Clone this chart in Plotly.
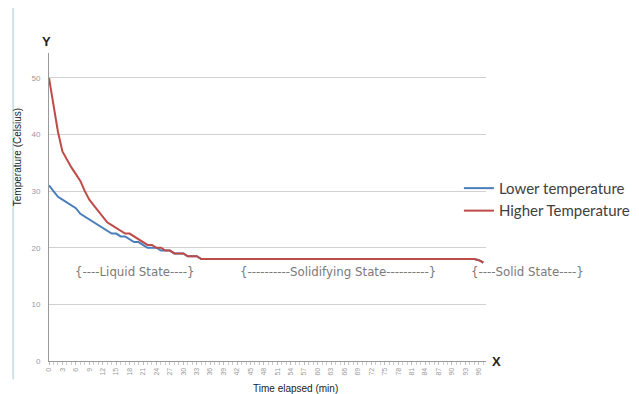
import plotly.graph_objects as go

minutes = list(range(0, 98))

higher_head = [50, 45, 40.5, 37, 35.5, 34.2, 33, 31.8, 30, 28.5, 27.5, 26.5, 25.5, 24.5,
               24, 23.5, 23, 22.5, 22.5, 22, 21.5, 21, 20.5, 20.5, 20, 20, 19.5, 19.5,
               19, 19, 19, 18.5, 18.5, 18.5]
lower_head = [31, 30, 29, 28.5, 28, 27.5, 27, 26, 25.5, 25, 24.5, 24, 23.5, 23,
              22.5, 22.5, 22, 22, 21.5, 21, 21, 20.5, 20, 20, 20, 19.5, 19.5, 19.5,
              19, 19, 19, 18.5, 18.5, 18.5]
plateau = [18] * 62
tail = [17.8, 17.4]

higher = higher_head + plateau + tail
lower = lower_head + plateau + tail

tick_vals = list(range(0, 97, 3))
tick_text = [str(v) for v in tick_vals]
y_ticks = [0, 10, 20, 30, 40, 50]

states = ["{----Liquid State----}", "{----------Solidifying State----------}", "{----Solid State----}"]
state_px = [0.197, 0.661, 1.096]
state_py = [0.289, 0.289, 0.289]

fig = go.Figure()
fig.add_trace(go.Scatter(x=minutes, y=lower, mode="lines", name="Lower temperature",
                         line=dict(color="#4a7ebb", width=2)))
fig.add_trace(go.Scatter(x=minutes, y=higher, mode="lines", name="Higher Temperature",
                         line=dict(color="#be4b48", width=2)))

def note(text, x, y, size, color, angle=0, bold=False, family="Liberation Sans"):
    fig.add_annotation(x=x, y=y, xref="paper", yref="paper",
                       text=f"<b>{text}</b>" if bold else text,
                       xanchor="center", yanchor="middle", textangle=angle, showarrow=False,
                       font=dict(family=family, size=size, color=color))

for t, x, y in zip(states, state_px, state_py):
    note(t, x, y, 11.8, "#7a7a7a", family="DejaVu Sans")

note("Y", -0.005, 1.036, 13, "#222", bold=True)
note("X", 1.025, 0.0, 13, "#222", bold=True)
note("Temperature (Celsius)", -0.073, 0.662, 10, "#222", angle=-90)
note("Time elapsed (min)", 0.563, -0.088, 10, "#222")

fig.add_shape(type="line", xref="paper", yref="paper", x0=-0.082, x1=-0.082, y0=-0.06, y1=1.15,
              line=dict(color="#cfe3e6", width=2))

# page body has an 8px default margin; figure sized/offset to fit the 639x394 window
fig.update_layout(
    width=631, height=386,
    margin=dict(l=41, r=153, t=45, b=33, autoexpand=False),
    plot_bgcolor="white", paper_bgcolor="white",
    showlegend=True,
    legend=dict(x=0.938, y=0.614, xanchor="left", yanchor="top",
                font=dict(family="Lato", size=15, color="#404040"),
                bgcolor="rgba(0,0,0,0)", tracegroupgap=0, itemwidth=30),
    xaxis=dict(range=[0, 97.6], tickmode="array", tickvals=tick_vals, ticktext=tick_text,
               tickangle=-90, tickfont=dict(family="Liberation Sans", size=7, color="#999"),
               showgrid=False, zeroline=False, showline=True, linecolor="#999", linewidth=1,
               ticks="outside", ticklen=3, tickcolor="#bbb", automargin=False,
               minor=dict(dtick=1, ticks="outside", ticklen=3, tickcolor="#ccc", showgrid=False)),
    yaxis=dict(range=[0, 54.4], tickvals=y_ticks, showgrid=True, gridcolor="#d0d0d0", gridwidth=1,
               zeroline=False, showline=True, linecolor="#999", linewidth=1,
               tickfont=dict(family="Liberation Sans", size=8, color="#999"),
               ticks="", ticklabelstandoff=6, automargin=False),
)

fig.write_html("out.html")
